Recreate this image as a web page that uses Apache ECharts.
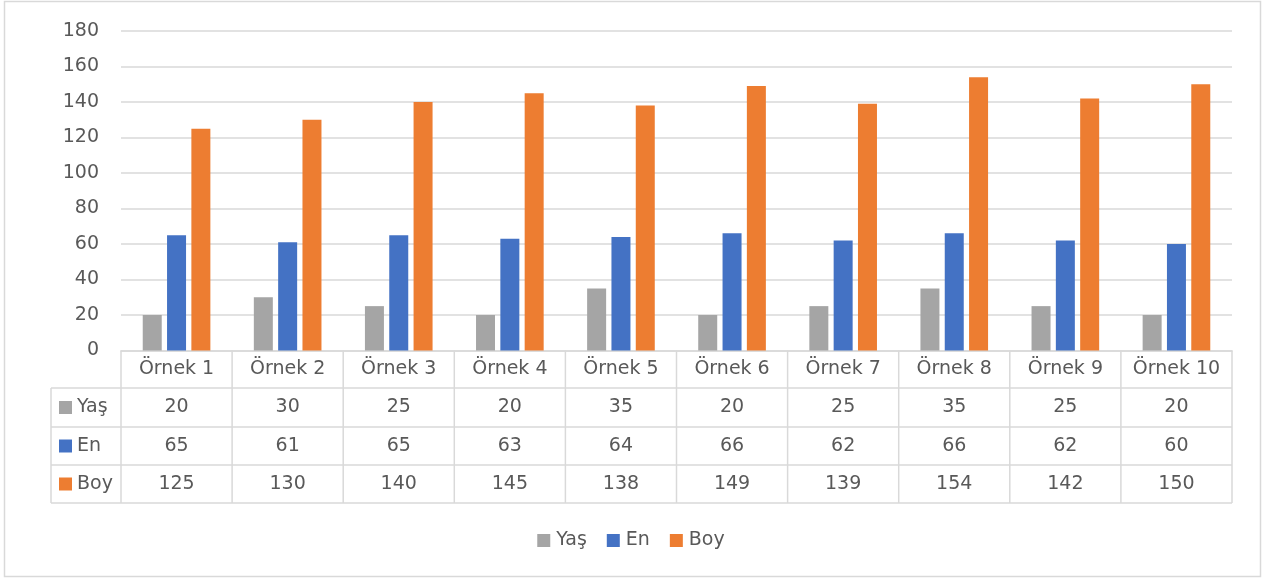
<!DOCTYPE html>
<html>
<head>
<meta charset="utf-8">
<script src="https://cdn.jsdelivr.net/npm/echarts@6/dist/echarts.min.js"></script>
<style>
html,body{margin:0;padding:0;background:#fff;}
#chart{width:1262px;height:578px;}
</style>
</head>
<body>
<div id="chart"></div>
<script>
// ---- data ----
const categories = ['Örnek 1','Örnek 2','Örnek 3','Örnek 4','Örnek 5','Örnek 6','Örnek 7','Örnek 8','Örnek 9','Örnek 10'];
const seriesNames = ['Yaş','En','Boy'];
const yas = [20,30,25,20,35,20,25,35,25,20];
const en  = [65,61,65,63,64,66,62,66,62,60];
const boy = [125,130,140,145,138,149,139,154,142,150];
const yTicks = [0,20,40,60,80,100,120,140,160,180];

const seriesValues = [yas, en, boy];
const colors = ['#A5A5A5','#4472C4','#ED7D31'];
const textColor = '#595959';
const lineColor = '#D9D9D9';
const FONT = 'DejaVu Sans';
const FS = 19;

// layout
const W = 1262, H = 578;
const gridLeft = 121, gridRight = 1232, gridTop = 31, gridBottomY = 350.5;
const rowLines = [388, 427, 465, 503];   // table horizontal lines
const labelColLeft = 51;
const colW = (gridRight - gridLeft) / categories.length;

const chart = echarts.init(document.getElementById('chart'), null, {renderer:'canvas'});

const xAxes = [{
  type:'category', data: categories, gridIndex:0, position:'bottom',
  axisLine:{show:true, lineStyle:{color:lineColor, width:1.5}},
  axisTick:{show:false},
  axisLabel:{interval:0, color:textColor, fontFamily:FONT, fontSize:FS, verticalAlign:'middle', margin:(rowLines[0]-gridBottomY)/2}
}];
seriesValues.forEach((vals, r) => {
  const top = rowLines[r], bot = rowLines[r+1];
  const center = (top+bot)/2;
  xAxes.push({
    type:'category', data: categories, gridIndex:0, position:'bottom',
    axisLine:{show:false}, axisTick:{show:false}, splitLine:{show:false},
    axisLabel:{interval:0, color:textColor, fontFamily:FONT, fontSize:FS, verticalAlign:'middle',
      margin: center - gridBottomY,
      formatter: (v, i) => String(vals[i])}
  });
});

// table lines
const graphics = [];
const lineStyle = {stroke:lineColor, lineWidth:1.5};
rowLines.forEach(y => {
  graphics.push({type:'line', shape:{x1:labelColLeft, y1:y, x2:gridRight, y2:y}, style:lineStyle, silent:true});
});
graphics.push({type:'line', shape:{x1:labelColLeft, y1:rowLines[0], x2:labelColLeft, y2:rowLines[3]}, style:lineStyle, silent:true});
for (let k = 0; k <= categories.length; k++) {
  const x = gridLeft + k*colW;
  graphics.push({type:'line', shape:{x1:x, y1:gridBottomY, x2:x, y2:rowLines[3]}, style:lineStyle, silent:true});
}
// row legend keys
seriesNames.forEach((name, r) => {
  const cy = (rowLines[r] + rowLines[r+1]) / 2;
  graphics.push({type:'rect', shape:{x:59, y:cy-6.5, width:13, height:13}, style:{fill:colors[r]}, silent:true});
  graphics.push({type:'text', x:77, y:cy, style:{text:name, fill:textColor, font: FS + 'px "' + FONT + '"', textVerticalAlign:'middle', verticalAlign:'middle'}, silent:true});
});
// outer border
graphics.push({type:'rect', shape:{x:4.5, y:1.5, width:1256, height:575}, style:{fill:'none', stroke:lineColor, lineWidth:1.5}, silent:true, z:-1});

const option = {
  backgroundColor:'#fff',
  animation:false,
  color: colors,
  grid:{left:gridLeft, right:W-gridRight, top:gridTop, bottom:H-gridBottomY, containLabel:false},
  legend:{
    data: seriesNames, top: 526, left:'center',
    icon:'rect', itemWidth:13, itemHeight:13, itemGap:20,
    textStyle:{color:textColor, fontFamily:FONT, fontSize:FS, padding:[0,0,0,1]}
  },
  xAxis: xAxes,
  yAxis:{
    type:'value', min:yTicks[0], max:yTicks[yTicks.length-1], interval:yTicks[1]-yTicks[0],
    axisLine:{show:false}, axisTick:{show:false},
    splitLine:{lineStyle:{color:lineColor, width:1.5}},
    axisLabel:{color:textColor, fontFamily:FONT, fontSize:FS, margin:22}
  },
  series: seriesNames.map((name, i) => ({
    name, type:'bar', xAxisIndex:0, data: seriesValues[i],
    barWidth:19, barGap:'28%',
    itemStyle:{color:colors[i]}
  })),
  graphic: graphics
};
chart.setOption(option);
</script>
</body>
</html>
